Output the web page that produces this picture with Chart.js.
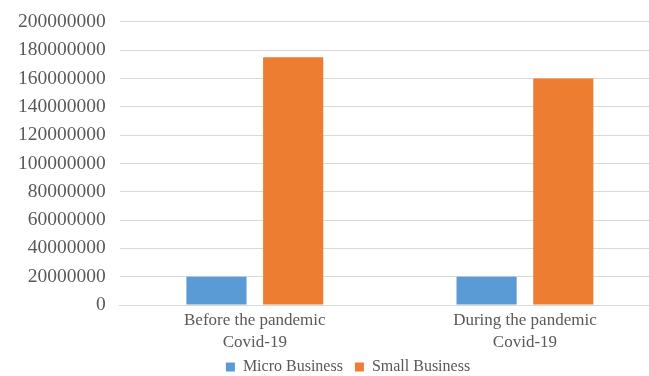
<!DOCTYPE html>
<html>
<head>
<meta charset="utf-8">
<script src="https://cdn.jsdelivr.net/npm/chart.js@4/dist/chart.umd.min.js"></script>
<style>
    html, body { margin: 0; padding: 0; background: #fff; overflow: hidden; }
    #wrap { position: relative; width: 660px; height: 376px; }
</style>
</head>
<body>
<div id="wrap"><canvas id="businessChart"></canvas></div>
<script>
// Data
const periods = [['Before the pandemic', 'Covid-19'], ['During the pandemic', 'Covid-19']];
const microBusiness = [20000000, 20000000];
const smallBusiness = [175000000, 160000000];
const yTicks = [0, 20000000, 40000000, 60000000, 80000000, 100000000,
    120000000, 140000000, 160000000, 180000000, 200000000];

const serif = '"Liberation Serif", "Times New Roman", serif';
const textGray = '#595959';

// Legend sits tight under the axis labels, a bit right of centre, like the Excel original
const tightLegend = {
    id: 'tightLegend',
    beforeInit(chart) {
        const legend = chart.legend;
        const origFit = legend.fit;
        legend.fit = function () {
            origFit.call(this);
            this.height = 29;
        };
        const origDraw = legend.draw;
        legend.draw = function () {
            const c = this.ctx;
            c.save();
            c.translate(16, 0);
            origDraw.call(this);
            c.restore();
        };
    }
};

const ctx = document.getElementById('businessChart').getContext('2d');
new Chart(ctx, {
    type: 'bar',
    data: {
        labels: periods,
        datasets: [
            {
                label: 'Micro Business',
                data: microBusiness,
                backgroundColor: '#5B9BD5',
            },
            {
                label: 'Small Business',
                data: smallBusiness,
                backgroundColor: '#ED7D31',
            }
        ]
    },
    options: {
        responsive: true,
        maintainAspectRatio: false,
        animation: false,
        datasets: {
            bar: {
                categoryPercentage: 0.568,
                barPercentage: 0.784
            }
        },
        layout: {
            padding: { top: 0, left: 4, right: 0, bottom: 0 }
        },
        plugins: {
            tooltip: { enabled: false },
            legend: {
                position: 'bottom',
                labels: {
                    color: textGray,
                    boxWidth: 9,
                    boxHeight: 9,
                    padding: 12,
                    font: { family: serif, size: 16 }
                }
            }
        },
        scales: {
            x: {
                grid: { display: false, drawTicks: false },
                border: { color: '#d9d9d9' },
                afterFit: (axis) => { axis.height = 42; },
                ticks: {
                    color: textGray,
                    padding: 4,
                    maxRotation: 0,
                    font: { family: serif, size: 17, lineHeight: 1.3 }
                }
            },
            y: {
                min: 0,
                max: 200000000,
                afterBuildTicks: (axis) => {
                    axis.ticks = yTicks.map(v => ({ value: v }));
                },
                grid: { color: '#d9d9d9', drawTicks: false },
                border: { display: false },
                ticks: {
                    color: textGray,
                    padding: 14,
                    autoSkip: false,
                    font: { family: serif, size: 19.5, lineHeight: 0.8 },
                    callback: (v) => String(v)
                }
            }
        }
    },
    plugins: [tightLegend]
});
</script>
</body>
</html>
